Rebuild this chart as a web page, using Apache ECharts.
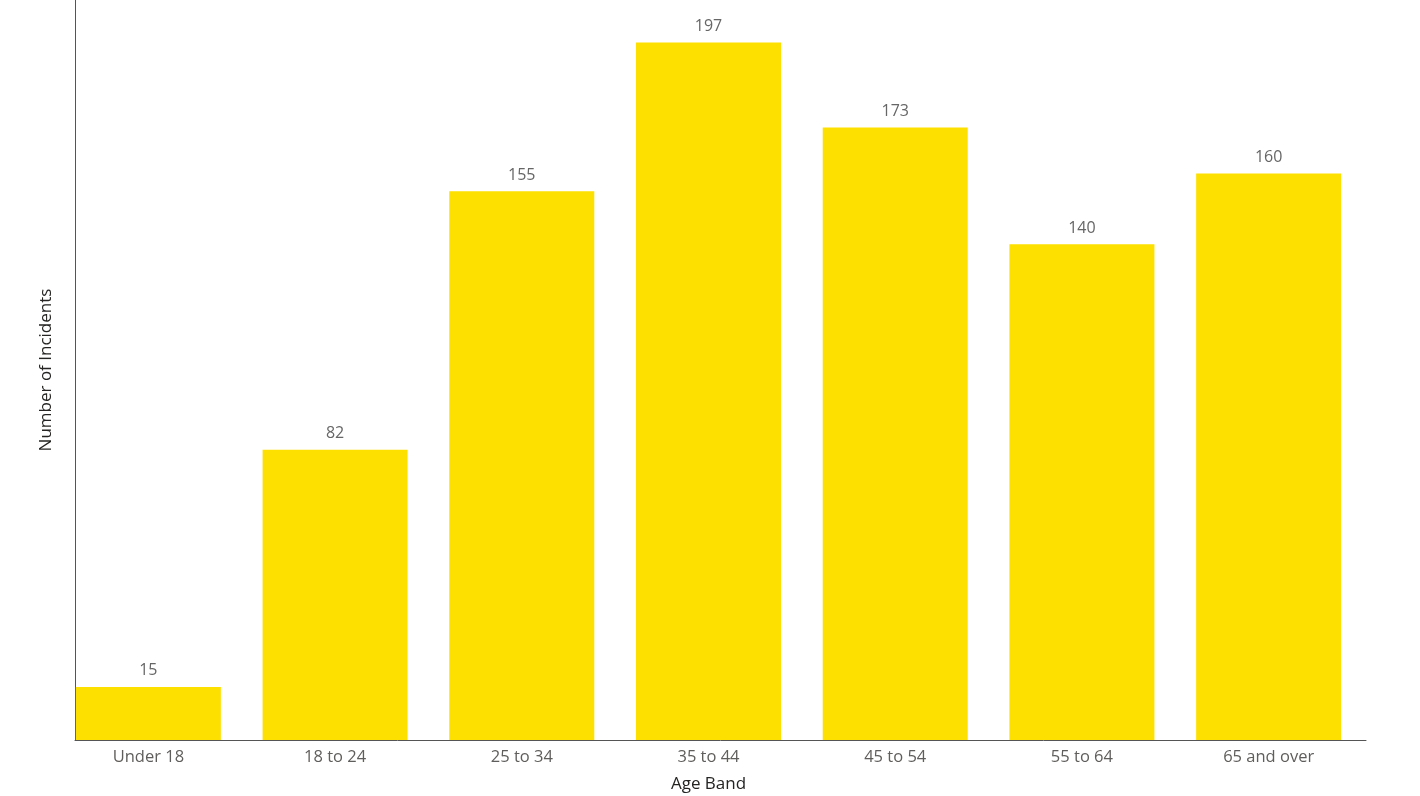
<!DOCTYPE html>
<html lang="en" style="height: 100%">
<head>
  <meta charset="UTF-8" />
  <title>Incidents by Age Band</title>
  <script src="https://cdn.jsdelivr.net/npm/echarts@6/dist/echarts.min.js"></script>
  <style>
    html, body { height: 100%; margin: 0; background: #fff; }
    #chart { width: 1420px; height: 796px; }
  </style>
</head>
<body>
  <div id="chart"></div>
  <script>
    const ageBands = ['Under 18', '18 to 24', '25 to 34', '35 to 44', '45 to 54', '55 to 64', '65 and over'];
    const incidents = [15, 82, 155, 197, 173, 140, 160];
    const yMax = 209;

    const font = '"Open Sans", "Noto Sans", sans-serif';
    const chart = echarts.init(document.getElementById('chart'));

    chart.setOption({
      backgroundColor: '#fff',
      // grid 0 only draws the axis frame, grid 1 holds the bars (Power BI style offset)
      grid: [
        { left: 75, right: 54, top: 0, bottom: 56, outerBoundsMode: 'none' },
        { left: 55, width: 1307, top: 0, bottom: 56, outerBoundsMode: 'none' }
      ],
      xAxis: [
        {
          gridIndex: 0, type: 'category', data: ageBands,
          axisLine: { lineStyle: { color: '#555', width: 1 } },
          axisTick: { show: false }, axisLabel: { show: false }
        },
        {
          gridIndex: 1, type: 'category', data: ageBands,
          axisLine: { show: false }, axisTick: { show: false },
          axisLabel: { color: '#605E5C', fontSize: 16.5, fontFamily: font, margin: 9 },
          name: 'Age Band', nameLocation: 'middle', nameGap: 36,
          nameTextStyle: { color: '#252423', fontSize: 17, fontFamily: font }
        }
      ],
      yAxis: [
        {
          gridIndex: 0, type: 'value', min: 0, max: yMax,
          axisLine: { show: true, lineStyle: { color: '#555', width: 1 } },
          axisTick: { show: false }, axisLabel: { show: false }, splitLine: { show: false },
          name: 'Number of Incidents', nameLocation: 'middle', nameGap: 20, nameRotate: 90,
          nameTextStyle: { color: '#252423', fontSize: 17, fontFamily: font }
        },
        {
          gridIndex: 1, type: 'value', min: 0, max: yMax, show: false
        }
      ],
      series: [
        {
          type: 'bar',
          xAxisIndex: 1, yAxisIndex: 1,
          data: incidents,
          barWidth: 145,
          itemStyle: { color: '#FDE000' },
          label: {
            show: true, position: 'top', distance: 8,
            color: '#666', fontSize: 16, fontFamily: font
          }
        }
      ]
    });
  </script>
</body>
</html>
